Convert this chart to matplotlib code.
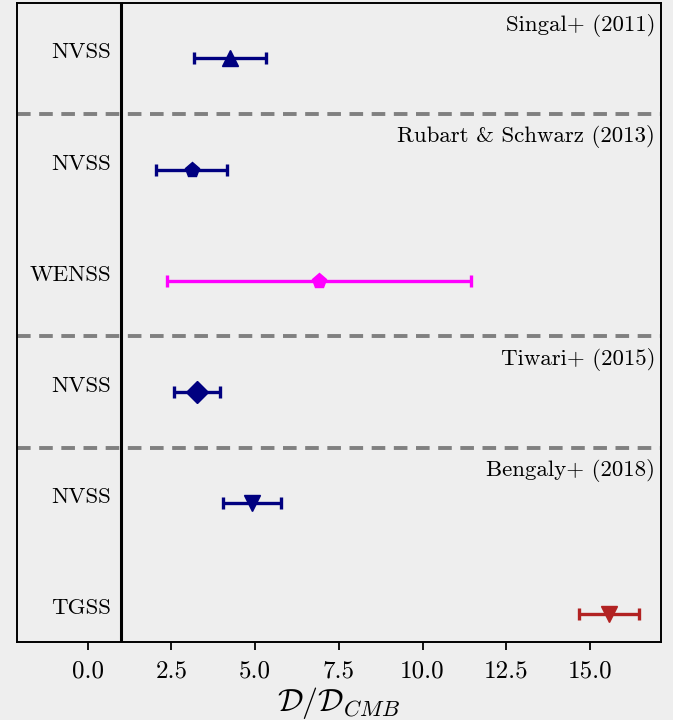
import numpy as np
import matplotlib
matplotlib.use("Agg")
import matplotlib.pyplot as plt

plt.rcParams['font.family'] = 'serif'
plt.rcParams['font.serif'] = ['cmr10']
plt.rcParams['mathtext.fontset'] = 'cm'
plt.rcParams['axes.formatter.use_mathtext'] = True

# dipole amplitude relative to the CMB expectation, one row per survey
surveys = ["NVSS", "NVSS", "WENSS", "NVSS", "NVSS", "TGSS"]
amplitude = [4.25, 3.10, 6.90, 3.26, 4.90, 15.57]
amp_err = [1.07, 1.05, 4.54, 0.68, 0.86, 0.90]
markers = ["^", "p", "p", "D", "v", "v"]
colors = ["navy", "navy", "magenta", "navy", "navy", "firebrick"]
msizes = [12, 11, 11, 11, 12, 12]

# papers and the number of rows each one covers (top to bottom)
papers = ["Singal+ (2011)", "Rubart & Schwarz (2013)", "Tiwari+ (2015)", "Bengaly+ (2018)"]
paper_rows = [1, 2, 1, 2]

bg = "#eeeeee"
fig = plt.figure(figsize=(6.73, 7.2), dpi=100, facecolor=bg)
ax = fig.add_axes([0.025, 0.108, 0.957, 0.888])
ax.set_facecolor(bg)

n = len(surveys)
ypos = np.arange(n)[::-1]

for y, x, e, m, c, ms, name in zip(ypos, amplitude, amp_err, markers, colors, msizes, surveys):
    ax.errorbar(x, y, xerr=e, fmt=m, color=c, ms=ms, elinewidth=2.4,
                capsize=4, capthick=2.4, zorder=3)
    ax.text(0.7, y, name, ha="right", va="baseline", fontsize=16.5)

ax.axvline(1.0, color="black", lw=2.2, zorder=2)

# separators and paper names
top = n - 0.5
for paper, k in zip(papers, paper_rows):
    ax.text(16.95, top - 0.1, paper, ha="right", va="top", fontsize=16.5)
    top -= k
    if top > 0:
        ax.axhline(top, color="gray", ls=(0, (3.5, 2.2)), lw=2.8, zorder=1)

ax.set_xlim(-2.12, 17.12)
ax.set_ylim(-0.25, n - 0.5)
ax.set_yticks([])
ax.set_xticks([0, 2.5, 5, 7.5, 10, 12.5, 15])
ax.set_xticklabels(["0.0", "2.5", "5.0", "7.5", "10.0", "12.5", "15.0"])
ax.tick_params(axis="x", labelsize=18, width=1.3, length=6, pad=7)
for s in ax.spines.values():
    s.set_linewidth(1.4)
ax.set_xlabel(r"$\mathcal{D}/\mathcal{D}_{CMB}$", fontsize=23, labelpad=2)

fig.savefig("out.png", dpi=100, facecolor=bg)
